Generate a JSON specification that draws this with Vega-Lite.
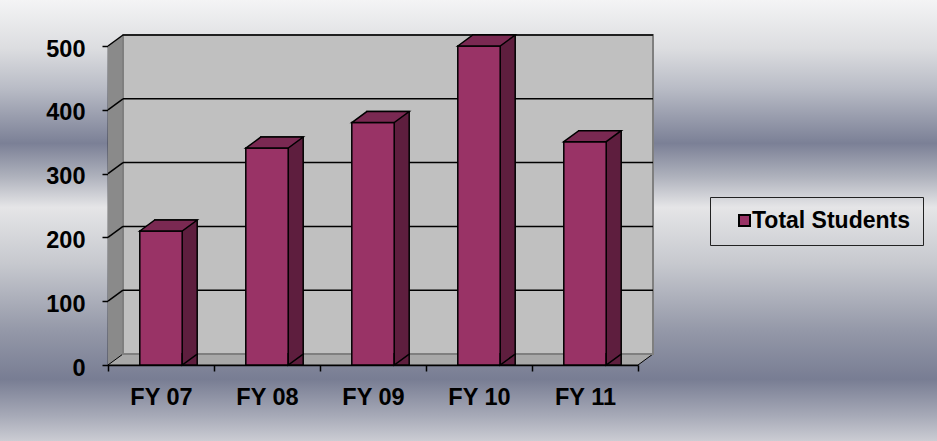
{
  "$schema": "https://vega.github.io/schema/vega-lite/v6.json",
  "width": 937,
  "height": 441,
  "autosize": {"type": "none"},
  "padding": 0,
  "background": "#e5e5e7",
  "datasets": {
    "enrollment": [
      {"year": "FY 07", "students": 210},
      {"year": "FY 08", "students": 340},
      {"year": "FY 09", "students": 380},
      {"year": "FY 10", "students": 500},
      {"year": "FY 11", "students": 350}
    ],
    "grid": [
      {"level": 100},
      {"level": 200},
      {"level": 300},
      {"level": 400},
      {"level": 500}
    ],
    "wall": [{"part": "wall"}]
  },
  "config": {
    "font": "Liberation Sans",
    "view": {
      "stroke": null,
      "fill": {
        "gradient": "linear",
        "x1": 0, "y1": 0, "x2": 0, "y2": 1,
        "stops": [
          {"offset": 0, "color": "#f4f4f5"},
          {"offset": 0.11, "color": "#dcdde0"},
          {"offset": 0.2, "color": "#b9bcc6"},
          {"offset": 0.325, "color": "#7b8096"},
          {"offset": 0.4, "color": "#aeb1bc"},
          {"offset": 0.47, "color": "#e5e5e7"},
          {"offset": 0.6, "color": "#c6c8ce"},
          {"offset": 0.75, "color": "#9498a8"},
          {"offset": 0.86, "color": "#787d93"},
          {"offset": 0.94, "color": "#a5a8b6"},
          {"offset": 1, "color": "#cbccd3"}
        ]
      }
    }
  },
  "layer": [
    {
      "data": {"name": "enrollment"},
      "mark": {"type": "bar", "stroke": "#000", "strokeWidth": 1.5, "width": {"band": 0.4}, "opacity": 0},
      "encoding": {
        "x": {
          "field": "year", "type": "nominal",
          "scale": {"type": "band", "domain": ["FY 07", "FY 08", "FY 09", "FY 10", "FY 11"], "range": [108, 638], "paddingInner": 0, "paddingOuter": 0},
          "axis": {"title": null, "orient": "bottom", "offset": -76, "grid": false, "domainColor": "#000", "domainWidth": 1.5, "tickColor": "#000", "tickWidth": 1.5, "tickSize": 6, "tickBand": "extent", "labelFontSize": 23.5, "labelFontWeight": "bold", "labelColor": "#000", "labelPadding": 14, "labelAngle": 0}
        },
        "y": {
          "field": "students", "type": "quantitative", "stack": null,
          "scale": {"domain": [0, 500], "range": [365, 46], "nice": false, "zero": true},
          "axis": {"title": null, "orient": "left", "offset": -108, "grid": false, "values": [0, 100, 200, 300, 400, 500], "domainColor": "#000", "domainWidth": 1.5, "tickColor": "#000", "tickWidth": 1.5, "tickSize": 6, "labelFontSize": 23.5, "labelFontWeight": "bold", "labelColor": "#000", "labelPadding": 17, "labelOffset": 3}
        }
      }
    },
    {
      "data": {"name": "wall"},
      "mark": {"type": "point", "shape": "M-53,-159.5L-38,-170.5L-38,148.5L-53,159.5Z", "size": 4, "filled": true, "fill": "#8a8a8a", "stroke": null, "opacity": 1},
      "encoding": {
        "x": {"datum": "FY 07", "type": "nominal"},
        "y": {"datum": 250, "type": "quantitative"}
      }
    },
    {
      "data": {"name": "wall"},
      "mark": {"type": "point", "shape": "M-265,0L-250,-11L280,-11L265,0Z", "size": 4, "filled": true, "fill": "#a8a8a8", "stroke": "#000", "strokeWidth": 1, "opacity": 1},
      "encoding": {
        "x": {"datum": "FY 09", "type": "nominal"},
        "y": {"datum": 0, "type": "quantitative"}
      }
    },
    {
      "data": {"name": "wall"},
      "mark": {"type": "rect", "fill": "#c0c0c0", "stroke": "#7f7f7f", "strokeWidth": 2, "xOffset": 15, "x2Offset": 15, "yOffset": -11, "y2Offset": -11},
      "encoding": {
        "x": {"datum": "FY 07", "type": "nominal", "bandPosition": 0},
        "x2": {"datum": "FY 11", "bandPosition": 1},
        "y": {"datum": 500, "type": "quantitative"},
        "y2": {"datum": 0}
      }
    },
    {
      "data": {"name": "grid"},
      "mark": {"type": "rule", "stroke": "#000", "strokeWidth": 1.5, "xOffset": 15, "x2Offset": 15, "yOffset": -11},
      "encoding": {
        "x": {"datum": "FY 07", "type": "nominal", "bandPosition": 0},
        "x2": {"datum": "FY 11", "bandPosition": 1},
        "y": {"field": "level", "type": "quantitative"}
      }
    },
    {
      "data": {"name": "grid"},
      "mark": {"type": "point", "shape": "M-53,0L-38,-11", "size": 4, "filled": false, "stroke": "#000", "strokeWidth": 1.5, "opacity": 1},
      "encoding": {
        "x": {"datum": "FY 07", "type": "nominal"},
        "y": {"field": "level", "type": "quantitative"}
      }
    },
    {
      "data": {"name": "enrollment"},
      "mark": {"type": "bar", "fill": "#5e1e3e", "stroke": "#000", "strokeWidth": 1.5, "width": {"band": 0.4}, "xOffset": 15, "x2Offset": 15, "yOffset": -11, "y2Offset": -11},
      "encoding": {
        "x": {"field": "year", "type": "nominal"},
        "y": {"field": "students", "type": "quantitative", "stack": null}
      }
    },
    {
      "data": {"name": "enrollment"},
      "mark": {"type": "bar", "stroke": "#000", "strokeWidth": 1.5, "width": {"band": 0.4}, "opacity": 1},
      "encoding": {
        "x": {"field": "year", "type": "nominal"},
        "y": {"field": "students", "type": "quantitative", "stack": null},
        "color": {
          "datum": "Total Students", "type": "nominal",
          "scale": {"range": ["#993366"]},
          "legend": {"title": null, "orient": "none", "legendX": 710, "legendY": 197, "padding": 12, "strokeColor": "#222", "symbolType": "square", "symbolSize": 121, "symbolStrokeColor": "#000", "symbolStrokeWidth": 2, "symbolOffset": 11, "labelOffset": -4, "labelFontSize": 23, "labelFontWeight": "bold", "labelColor": "#000", "labelFont": "Liberation Sans"}
        }
      }
    },
    {
      "data": {"name": "enrollment"},
      "mark": {"type": "point", "shape": "M-21.2,0L-6.2,-11L36.2,-11L21.2,0Z", "size": 4, "filled": true, "fill": "#7a2952", "stroke": "#000", "strokeWidth": 1.5, "opacity": 1},
      "encoding": {
        "x": {"field": "year", "type": "nominal"},
        "y": {"field": "students", "type": "quantitative"}
      }
    },
    {
      "data": {"name": "enrollment"},
      "mark": {"type": "point", "shape": "M21.2,-12L21.2,0L36.2,-11L36.2,-12", "size": 4, "filled": true, "fill": "#5e1e3e", "stroke": "#000", "strokeWidth": 1.5, "opacity": 1},
      "encoding": {
        "x": {"field": "year", "type": "nominal"},
        "y": {"datum": 0, "type": "quantitative"}
      }
    }
  ]
}
